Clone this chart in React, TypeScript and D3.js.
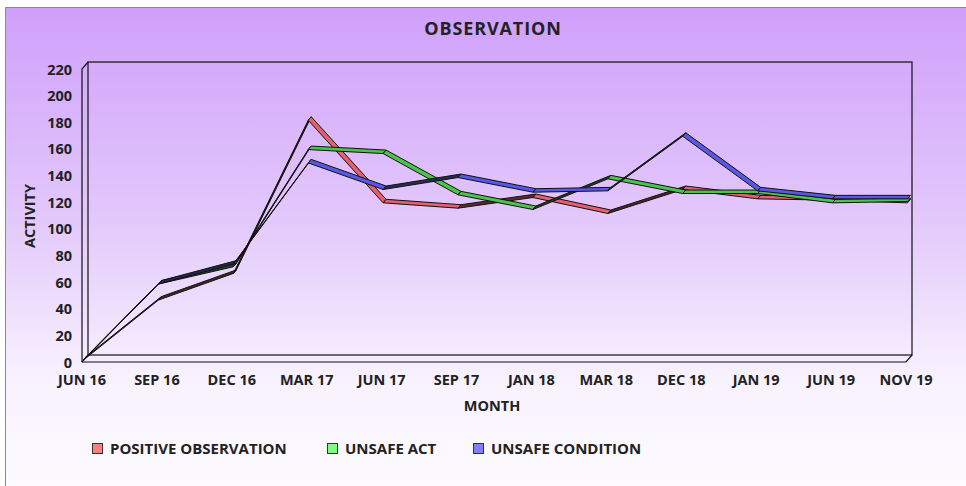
import React from "react";
import * as d3 from "d3";

const months = ["JUN 16", "SEP 16", "DEC 16", "MAR 17", "JUN 17", "SEP 17", "JAN 18", "MAR 18", "DEC 18", "JAN 19", "JUN 19", "NOV 19"];
const positiveObservation = [0, 45, 65, 180, 118, 114, 122, 110, 128, 121, 120, 118];
const unsafeAct = [0, 57, 70, 158, 155, 124, 113, 136, 125, 125, 118, 119];
const unsafeCondition = [0, 57, 72, 148, 128, 137, 126, 127, 168, 127, 121, 121];
const yTicks = [0, 20, 40, 60, 80, 100, 120, 140, 160, 180, 200, 220];

const series = [
  { name: "POSITIVE OBSERVATION", values: positiveObservation, color: "#e4606c", legend: "#ff7f7f" },
  { name: "UNSAFE ACT", values: unsafeAct, color: "#4cc44c", legend: "#7fff7f" },
  { name: "UNSAFE CONDITION", values: unsafeCondition, color: "#5858e4", legend: "#7f7fff" },
];

const W = 966;
const H = 486;
const font = "'Open Sans', sans-serif";
const ink = "#222";

// front plane of the 3d box, back plane is shifted by depth
const left = 82;
const right = 906;
const bottom = 362;
const top = 69;
const depth = { x: 6, y: -7 };
const front = { x: 1.5, y: -2 };
const back = { x: 4.5, y: -5.5 };

const x = d3.scalePoint<string>().domain(months).range([left, right]);
const y = d3.scaleLinear().domain([0, 220]).range([bottom, top]);

const App = () => {
  const legendX = [92, 327, 473];

  return (
    <svg width={W} height={H} style={{ position: "absolute", left: 0, top: 0 }} fontFamily={font}>
      <defs>
        <linearGradient id="bg" x1="0" y1="0" x2="0" y2="1">
          <stop offset="0" stopColor="#cf9ffb" />
          <stop offset="0.45" stopColor="#e3c9fb" />
          <stop offset="0.78" stopColor="#f8f2fe" />
          <stop offset="1" stopColor="#fdfbff" />
        </linearGradient>
      </defs>
      <rect x={5} y={7} width={W - 5} height={H - 7} fill="url(#bg)" />
      <path d={`M5.5,${H}V7.5H${W}`} fill="none" stroke="#8a8a8a" />

      <text x={493} y={35} textAnchor="middle" fontSize={18} fontWeight="bold" fill={ink} letterSpacing={0.9}>
        OBSERVATION
      </text>

      {/* walls and floor */}
      <g fill="none" stroke="#111" strokeWidth={1.2}>
        <rect x={left + depth.x} y={top + depth.y} width={right - left} height={bottom - top} />
        <path d={`M${left},${bottom}V${top}L${left + depth.x},${top + depth.y}`} />
        <path d={`M${left},${bottom}H${right}L${right + depth.x},${bottom + depth.y}`} />
        <path d={`M${left},${bottom}L${left + depth.x},${bottom + depth.y}`} />
      </g>

      {/* y axis labels */}
      {yTicks.map((t) => (
        <text key={t} x={72} y={y(t) + 5.5} textAnchor="end" fontSize={14.5} fontWeight="bold" fill={ink}>
          {t}
        </text>
      ))}
      <text transform={`translate(35,216) rotate(-90)`} textAnchor="middle" fontSize={14.5} fontWeight="bold" fill={ink}>
        ACTIVITY
      </text>

      {/* x axis labels */}
      {months.map((m) => (
        <text key={m} x={x(m)} y={385} textAnchor="middle" fontSize={14.5} fontWeight="bold" fill={ink}>
          {m}
        </text>
      ))}
      <text x={492} y={411} textAnchor="middle" fontSize={14.5} fontWeight="bold" fill={ink}>
        MONTH
      </text>

      {/* ribbons */}
      {series.map((s) => (
        <g key={s.name}>
          {s.values.slice(1).map((v, i) => {
            const x1 = x(months[i])!;
            const x2 = x(months[i + 1])!;
            const y1 = y(s.values[i]);
            const y2 = y(v);
            const rise = (y1 - y2) / (x2 - x1);
            const shade = rise > 0.05 ? Math.min(0.95, 0.6 + rise * 0.4) : 0;
            const fill = d3.interpolateRgb(s.color, "#111")(shade);
            const pts = [
              [x1 + front.x, y1 + front.y],
              [x2 + front.x, y2 + front.y],
              [x2 + back.x, y2 + back.y],
              [x1 + back.x, y1 + back.y],
            ];
            return (
              <path
                key={i}
                d={`M${pts.map((p) => p.join(",")).join("L")}Z`}
                fill={fill}
                stroke="#111"
                strokeWidth={1}
                strokeLinejoin="round"
              />
            );
          })}
        </g>
      ))}

      {/* legend */}
      {series.map((s, i) => (
        <g key={s.name} transform={`translate(${legendX[i]},443)`}>
          <rect x={0.5} y={0.5} width={10} height={10} fill={s.legend} stroke="#333" />
          <text x={18} y={11} fontSize={15} fontWeight="bold" fill={ink}>
            {s.name}
          </text>
        </g>
      ))}
    </svg>
  );
};

export default App;
